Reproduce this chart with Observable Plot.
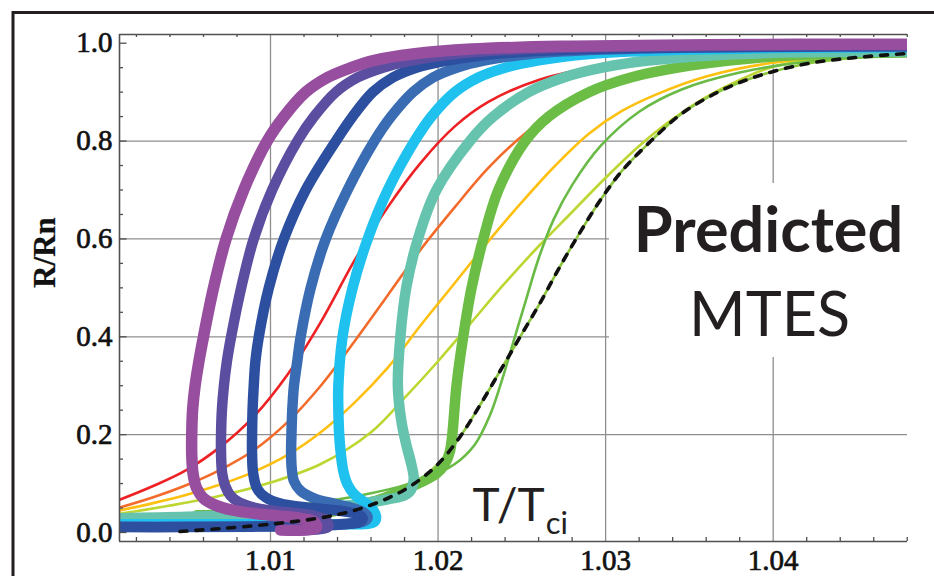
<!DOCTYPE html>
<html><head><meta charset="utf-8">
<script src="https://cdn.jsdelivr.net/npm/d3@7"></script>
<script src="https://cdn.jsdelivr.net/npm/@observablehq/plot@0.6"></script>
<style>body{margin:0;background:#fff}</style>
</head><body><div id="chart"></div>
<script>
// ---- ticks ----
const xMajor = [1.01, 1.02, 1.03, 1.04];
const xMinor = [1.002,1.004,1.006,1.008,1.012,1.014,1.016,1.018,1.022,1.024,1.026,1.028,1.032,1.034,1.036,1.038,1.042,1.044,1.046,1.048];
const yMajor = [0, 0.2, 0.4, 0.6, 0.8, 1.0];
const yGrid = [0.2, 0.4, 0.6, 0.8];
const yMinor = [0.05,0.1,0.15,0.25,0.3,0.35,0.45,0.5,0.55,0.65,0.7,0.75,0.85,0.9,0.95];

// ---- thin curves: [T/Tci, R/Rn] ----
const red = [[1.001,0.067],[1.003,0.095],[1.005,0.128],[1.007,0.175],[1.009,0.237],[1.011,0.322],[1.013,0.43],[1.015,0.555],[1.017,0.665],[1.019,0.757],[1.021,0.83],[1.023,0.88],[1.026,0.925],[1.030,0.955],[1.036,0.975],[1.048,0.985]];
const orange = [[1.001,0.051],[1.003,0.072],[1.005,0.097],[1.007,0.128],[1.009,0.168],[1.011,0.225],[1.013,0.30],[1.015,0.39],[1.017,0.485],[1.019,0.58],[1.021,0.665],[1.023,0.745],[1.025,0.81],[1.027,0.86],[1.029,0.895],[1.032,0.93],[1.036,0.958],[1.041,0.975],[1.048,0.982]];
const gold = [[1.001,0.045],[1.003,0.06],[1.005,0.077],[1.007,0.098],[1.009,0.124],[1.011,0.158],[1.013,0.205],[1.015,0.265],[1.017,0.337],[1.019,0.425],[1.021,0.51],[1.023,0.595],[1.025,0.675],[1.027,0.75],[1.029,0.815],[1.031,0.862],[1.033,0.895],[1.036,0.932],[1.040,0.96],[1.048,0.978]];
const lime = [[1.001,0.038],[1.004,0.055],[1.007,0.075],[1.010,0.102],[1.013,0.14],[1.016,0.205],[1.018,0.275],[1.020,0.35],[1.022,0.43],[1.024,0.51],[1.026,0.585],[1.028,0.655],[1.030,0.725],[1.032,0.79],[1.034,0.845],[1.036,0.89],[1.038,0.925],[1.040,0.952],[1.044,0.972],[1.048,0.978]];
const greenA = [[1.001,0.025],[1.005,0.034],[1.009,0.046],[1.013,0.062],[1.016,0.08],[1.019,0.107],[1.021,0.14],[1.0222,0.18],[1.0231,0.24],[1.0238,0.31],[1.0245,0.39],[1.0252,0.47],[1.0260,0.56],[1.0269,0.64],[1.0280,0.71],[1.0297,0.79],[1.032,0.86],[1.0345,0.905],[1.038,0.94],[1.042,0.962],[1.048,0.976]];
const dashed = [[1.0046,0.002],[1.007,0.008],[1.010,0.017],[1.013,0.03],[1.015,0.045],[1.017,0.07],[1.0185,0.098],[1.020,0.14],[1.0213,0.195],[1.0225,0.26],[1.0237,0.33],[1.0249,0.4],[1.0261,0.47],[1.0273,0.545],[1.0285,0.615],[1.0297,0.68],[1.031,0.74],[1.0327,0.80],[1.0345,0.855],[1.0367,0.9],[1.039,0.932],[1.042,0.958],[1.045,0.971],[1.048,0.979]];

// ---- thick (re-entrant) curves ----
const purple = [[1.0106,0.005],[1.0120,0.005],[1.01275,0.01],[1.0126,0.022],[1.0118,0.029],[1.0105,0.034],[1.0090,0.039],[1.0077,0.046],[1.0067,0.056],[1.0060,0.07],[1.0056,0.09],[1.00538,0.12],[1.0053,0.16],[1.0053,0.2],[1.00535,0.25],[1.0055,0.3],[1.00573,0.35],[1.0060,0.4],[1.0066,0.5],[1.00735,0.6],[1.0084,0.7],[1.0098,0.8],[1.0108,0.85],[1.0121,0.9],[1.0134,0.93],[1.0148,0.95],[1.0162,0.965],[1.0185,0.978],[1.022,0.988],[1.028,0.994],[1.036,0.997],[1.0485,0.998]];
const violet = [[1.0112,0.005],[1.0127,0.006],[1.01345,0.012],[1.0133,0.025],[1.0126,0.034],[1.0114,0.04],[1.0100,0.045],[1.0089,0.052],[1.0081,0.062],[1.0076,0.076],[1.0073,0.095],[1.00712,0.12],[1.00705,0.16],[1.00705,0.2],[1.0071,0.25],[1.00722,0.3],[1.0074,0.35],[1.00765,0.4],[1.00825,0.5],[1.0090,0.6],[1.0101,0.7],[1.0116,0.8],[1.0126,0.85],[1.0139,0.9],[1.0152,0.93],[1.0167,0.95],[1.0182,0.963],[1.0205,0.976],[1.024,0.986],[1.030,0.992],[1.038,0.995],[1.0485,0.996]];
const dblue = [[1.0005,0.011],[1.005,0.011],[1.009,0.012],[1.0125,0.014],[1.0145,0.017],[1.0153,0.021],[1.0155,0.028],[1.0153,0.036],[1.0146,0.042],[1.0134,0.047],[1.0119,0.052],[1.0106,0.059],[1.0097,0.072],[1.0092,0.09],[1.00897,0.12],[1.0089,0.16],[1.0089,0.2],[1.00893,0.25],[1.0090,0.3],[1.0091,0.35],[1.0093,0.4],[1.0099,0.5],[1.0108,0.6],[1.0121,0.7],[1.0139,0.8],[1.0149,0.85],[1.0161,0.9],[1.0173,0.93],[1.0187,0.95],[1.0203,0.963],[1.0228,0.976],[1.0265,0.985],[1.032,0.99],[1.040,0.993],[1.0485,0.994]];
const blue = [[1.0005,0.012],[1.006,0.012],[1.011,0.014],[1.0145,0.018],[1.0156,0.023],[1.0158,0.031],[1.0156,0.04],[1.0150,0.049],[1.0139,0.058],[1.0126,0.07],[1.0118,0.085],[1.0114,0.105],[1.01127,0.13],[1.01123,0.16],[1.01125,0.2],[1.0113,0.25],[1.0114,0.3],[1.0116,0.35],[1.0118,0.4],[1.0124,0.5],[1.0133,0.6],[1.0146,0.7],[1.0162,0.8],[1.0172,0.85],[1.0185,0.9],[1.0197,0.93],[1.0211,0.95],[1.0228,0.965],[1.0255,0.978],[1.029,0.986],[1.035,0.991],[1.042,0.993],[1.0485,0.994]];
const cyan = [[1.0005,0.017],[1.007,0.017],[1.013,0.017],[1.0158,0.018],[1.0162,0.022],[1.0163,0.033],[1.0161,0.047],[1.0156,0.062],[1.0150,0.078],[1.0146,0.098],[1.01435,0.125],[1.0142,0.16],[1.0141,0.2],[1.01405,0.25],[1.01405,0.3],[1.0143,0.4],[1.0149,0.5],[1.0158,0.6],[1.0170,0.7],[1.0186,0.8],[1.0196,0.85],[1.0210,0.9],[1.0224,0.93],[1.0240,0.95],[1.026,0.965],[1.029,0.978],[1.034,0.986],[1.040,0.99],[1.0485,0.992]];
const teal = [[1.0005,0.029],[1.005,0.032],[1.009,0.038],[1.0125,0.047],[1.0152,0.058],[1.0170,0.068],[1.0180,0.076],[1.0184,0.088],[1.01855,0.11],[1.0184,0.14],[1.0181,0.18],[1.0178,0.23],[1.0176,0.3],[1.01775,0.4],[1.0181,0.5],[1.0188,0.6],[1.0199,0.7],[1.0219,0.8],[1.0233,0.85],[1.0254,0.9],[1.0275,0.93],[1.0298,0.95],[1.0327,0.965],[1.038,0.978],[1.0485,0.983]];
const green = [[1.0056,0.035],[1.009,0.039],[1.012,0.045],[1.0145,0.053],[1.0163,0.065],[1.0178,0.085],[1.0190,0.103],[1.0199,0.12],[1.0204,0.14],[1.0207,0.165],[1.02085,0.2],[1.0211,0.3],[1.0215,0.4],[1.0220,0.5],[1.0227,0.6],[1.0236,0.7],[1.0252,0.8],[1.0266,0.85],[1.0290,0.9],[1.0315,0.93],[1.0343,0.95],[1.0375,0.965],[1.041,0.975],[1.0485,0.981]];

const thinSeries = [
  {pts: red, color: "#ed2124"},
  {pts: orange, color: "#f26b2a"},
  {pts: gold, color: "#fdc010"},
  {pts: lime, color: "#bed631"},
  {pts: greenA, color: "#69bb46"},
  {pts: dashed, color: "#8cc63f"}
];
const thickSeries = [
  {pts: green, color: "#6bbd45", w: 10.5},
  {pts: teal, color: "#66c3ad", w: 10.5},
  {pts: cyan, color: "#1fc1ef", w: 10.5},
  {pts: blue, color: "#3a6cb3", w: 10.5},
  {pts: dblue, color: "#2c4fa0", w: 10.5},
  {pts: violet, color: "#5b4ea0", w: 10.5},
  {pts: purple, color: "#974e9e", w: 11.5}
];

const W = 934, H = 576, mL = 119, mR = 27, mT = 34, mB = 35;
const fW = W - mL - mR, fH = H - mT - mB;
const xDom = [1.000989, 1.048015], yDom = [-0.0184, 1.0178];
const axisColor = "#505050", gridColor = "#8f8f8f";
const serif = "'Liberation Serif', 'DejaVu Serif', serif";
const sans = "Lato, 'Open Sans', sans-serif";
const serifText = {fontFamily: serif, fill: "#111", stroke: "#111", strokeWidth: 0.7};

const lineOf = (s, w) => Plot.line(s.pts, {x: d => d[0], y: d => d[1], stroke: s.color, strokeWidth: w, curve: "catmull-rom", clip: true, strokeLinejoin: "round"});

const labelBox = () => {
  const r = document.createElementNS("http://www.w3.org/2000/svg", "rect");
  r.setAttribute("x", 609); r.setAttribute("y", 183);
  r.setAttribute("width", 330); r.setAttribute("height", 174);
  r.setAttribute("fill", "#fff");
  return r;
};
const outerBorder = () => {
  const p = document.createElementNS("http://www.w3.org/2000/svg", "path");
  p.setAttribute("d", "M13,576V12.5H934");
  p.setAttribute("fill", "none"); p.setAttribute("stroke", "#231f20"); p.setAttribute("stroke-width", 3);
  return p;
};

const chart = Plot.plot({
  width: W, height: H,
  marginLeft: mL, marginRight: mR, marginTop: mT, marginBottom: mB,
  x: {domain: xDom, axis: null},
  y: {domain: yDom, axis: null},
  style: {background: "#fff", overflow: "visible"},
  marks: [
    outerBorder,
    Plot.ruleX(xMajor, {stroke: gridColor, strokeWidth: 1.3}),
    Plot.ruleY(yGrid, {stroke: gridColor, strokeWidth: 1.3}),
    labelBox,
    ...thinSeries.map(s => lineOf(s, 2.6)),
    ...thickSeries.map(s => lineOf(s, s.w)),
    Plot.line(dashed, {x: d => d[0], y: d => d[1], stroke: "#111", strokeWidth: 3.6, strokeDasharray: "7,9", curve: "catmull-rom", clip: true}),
    // frame
    Plot.ruleX([xDom[0]], {stroke: axisColor, strokeWidth: 1.6}),
    Plot.ruleY([yDom[0]], {stroke: axisColor, strokeWidth: 1.6}),
    Plot.ruleY([yDom[1]], {stroke: axisColor, strokeWidth: 1.6}),
    // ticks (inward)
    Plot.ruleX(xMinor, {insetTop: fH - 4, stroke: axisColor, strokeWidth: 1.3}),
    Plot.ruleX(xMinor, {insetBottom: fH - 3, stroke: axisColor, strokeWidth: 1.3}),
    Plot.ruleY(yMinor, {insetRight: fW - 4, stroke: axisColor, strokeWidth: 1.3}),
    Plot.ruleY(yMajor, {insetRight: fW - 7.5, stroke: axisColor, strokeWidth: 1.3}),
    // tick labels
    Plot.text(yMajor, {y: d => d, text: d => d.toFixed(1), frameAnchor: "left", textAnchor: "end", dx: -7, fontSize: 29, ...serifText}),
    Plot.text(xMajor, {x: d => d, text: d => d.toFixed(2), frameAnchor: "bottom", lineAnchor: "top", dy: 8, fontSize: 29, ...serifText}),
    Plot.text(["R/Rn"], {text: d => d, frameAnchor: "left", rotate: -90, dx: -74, fontSize: 31, ...serifText, fontWeight: "bold", strokeWidth: 0.2}),
    // annotations
    Plot.text(["Predicted"], {text: d => d, frameAnchor: "top-left", dx: 649, dy: 217, lineAnchor: "bottom", textAnchor: "middle", fontSize: 63, fontWeight: "bold", fontFamily: sans, fill: "#231f20"}),
    Plot.text(["MTES"], {text: d => d, frameAnchor: "top-left", dx: 650, dy: 301, lineAnchor: "bottom", textAnchor: "middle", fontSize: 61, fontFamily: sans, fill: "#231f20"}),
    Plot.text(["T/Tci"], {text: d => d, frameAnchor: "top-left", dx: 353, dy: 486, lineAnchor: "bottom", textAnchor: "start", fontSize: 46, fontFamily: sans, fill: "#231f20"})
  ]
});
// render the "ci" of T/Tci as a subscript inside the same text element
d3.select(chart).selectAll("text").filter(function () { return this.textContent === "T/Tci"; }).each(function () {
  const t = d3.select(this);
  t.text("T/T");
  t.append("tspan").attr("dy", 13).attr("dx", 1).attr("font-size", 31).text("ci");
});
document.getElementById("chart").appendChild(chart);
</script>
</body></html>
